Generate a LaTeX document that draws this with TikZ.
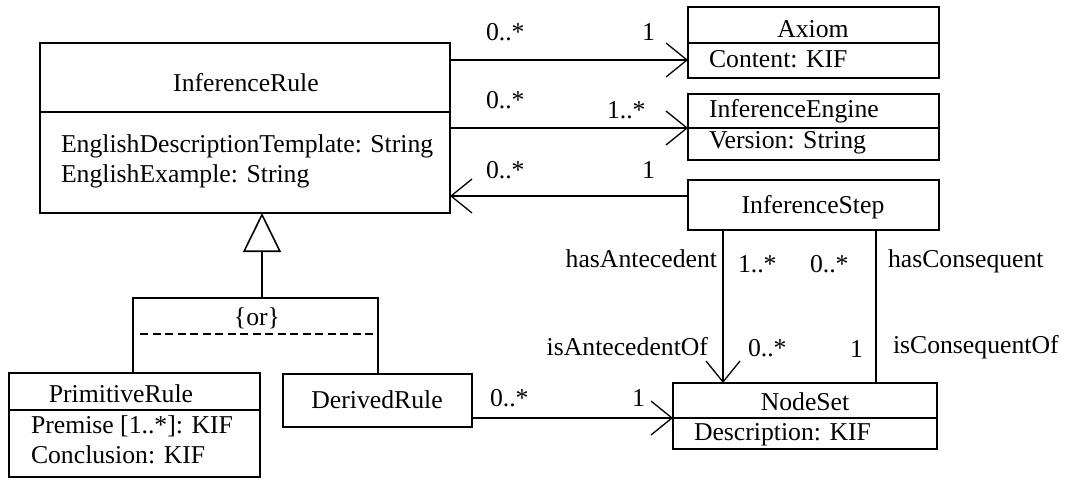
\documentclass[tikz,border=0pt]{standalone}
\usepackage{fontspec}
\setmainfont{Liberation Serif}
\usetikzlibrary{arrows.meta}
\tikzset{
  every node/.style={font=\fontsize{25.7}{30}\selectfont, inner sep=0pt, outer sep=0pt},
  classbox/.style={draw, line width=2pt, rectangle, minimum width=#1},
  lbl/.style={anchor=base west},
  lblr/.style={anchor=base east},
  lblc/.style={anchor=base},
  assoc/.style={line width=2pt, -{Straight Barb[length=21pt,width=34pt,line width=1.3pt]}},
  plainline/.style={line width=2pt},
  gen/.style={line width=2pt, -{Triangle[open,length=39pt,width=38pt,line width=1.6pt]}},
  divider/.style={line width=2pt},
}
\begin{document}
\begin{tikzpicture}[x=1pt,y=-1pt]
\useasboundingbox (0,0) rectangle (1067,479);

% class boxes
\node[classbox=410pt, minimum height=170pt] (ir) at (245,128) {};
\node[classbox=251pt, minimum height=71pt] (ax) at (813.5,42.5) {};
\node[classbox=251pt, minimum height=66pt] (ie) at (813.5,127) {};
\node[classbox=251pt, minimum height=50pt] (is) at (813.5,205) {};
\node[classbox=251pt, minimum height=104pt] (pr) at (134.5,425) {};
\node[classbox=189pt, minimum height=53pt] (dr) at (377.5,400.5) {};
\node[classbox=264pt, minimum height=66pt] (ns) at (805,416) {};

% dividers
\draw[divider] (ir.west |- 0,112) -- (ir.east |- 0,112);
\draw[divider] (ax.west |- 0,43) -- (ax.east |- 0,43);
\draw[divider] (ie.west |- 0,128) -- (ie.east |- 0,128);
\draw[divider] (pr.west |- 0,410) -- (pr.east |- 0,410);
\draw[divider] (ns.west |- 0,418) -- (ns.east |- 0,418);

% texts in boxes
\node[lblc] (irT) at (246,91) {InferenceRule};
\node[lbl] (irA1) at (61,152) {EnglishDescriptionTemplate: String};
\node[lbl] (irA2) at (61,182) {EnglishExample: String};
\node[lblc] (axT) at (813,37) {Axiom};
\node[lbl] (axA) at (709,67) {Content: KIF};
\node[lbl] (ieT) at (709,117) {InferenceEngine};
\node[lbl] (ieA) at (709,148) {Version: String};
\node[lblc] (isT) at (813,213) {InferenceStep};
\node[lblc] (prT) at (121,402) {PrimitiveRule};
\node[lbl] (prA1) at (31,433) {Premise [1..*]: KIF};
\node[lbl] (prA2) at (31,463) {Conclusion: KIF};
\node[lblc] (drT) at (377,408) {DerivedRule};
\node[lblc] (nsT) at (805,410) {NodeSet};
\node[lbl] (nsA) at (694,440) {Description: KIF};

% associations
\draw[assoc] (ir.east |- 0,60) -- (ax.west |- 0,60);
\draw[assoc] (ir.east |- 0,128) -- (ie.west |- 0,128);
\draw[assoc] (is.west |- 0,196) -- (ir.east |- 0,196);
\draw[assoc] (is.south -| 723,0) -- (ns.north -| 723,0);
\draw[plainline] (is.south -| 876,0) -- (ns.north -| 876,0);
\draw[assoc] (dr.east |- 0,418) -- (ns.west |- 0,418);

% multiplicities and role names
\node[lbl] (m1) at (486,40) {0..*};
\node[lbl] (m2) at (642,40) {1};
\node[lbl] (m3) at (486,108) {0..*};
\node[lbl] (m4) at (607,118) {1..*};
\node[lbl] (m5) at (486,178) {0..*};
\node[lbl] (m6) at (642,178) {1};
\node[lblr] (r1) at (717,267) {hasAntecedent};
\node[lbl] (m7) at (738,272) {1..*};
\node[lbl] (m8) at (810,272) {0..*};
\node[lbl] (r2) at (888,267) {hasConsequent};
\node[lblr] (r3) at (708,355) {isAntecedentOf};
\node[lbl] (m9) at (748,356) {0..*};
\node[lbl] (m10) at (850,357) {1};
\node[lbl] (r4) at (893,353) {isConsequentOf};
\node[lbl] (m11) at (490,406) {0..*};
\node[lbl] (m12) at (632,406) {1};

% generalization with {or} constraint
\coordinate (orTop) at (262,298);
\draw[gen] (orTop) -- (ir.south -| orTop);
\draw[plainline] (pr.north -| 133,0) -- (133,298) -- (378,298) -- (dr.north -| 378,0);
\draw[line width=1.8pt, dash pattern=on 8pt off 4.5pt] (140,334) -- (375,334);
\node[lblc] (orT) at (257,325) {\{or\}};
\end{tikzpicture}
\end{document}
